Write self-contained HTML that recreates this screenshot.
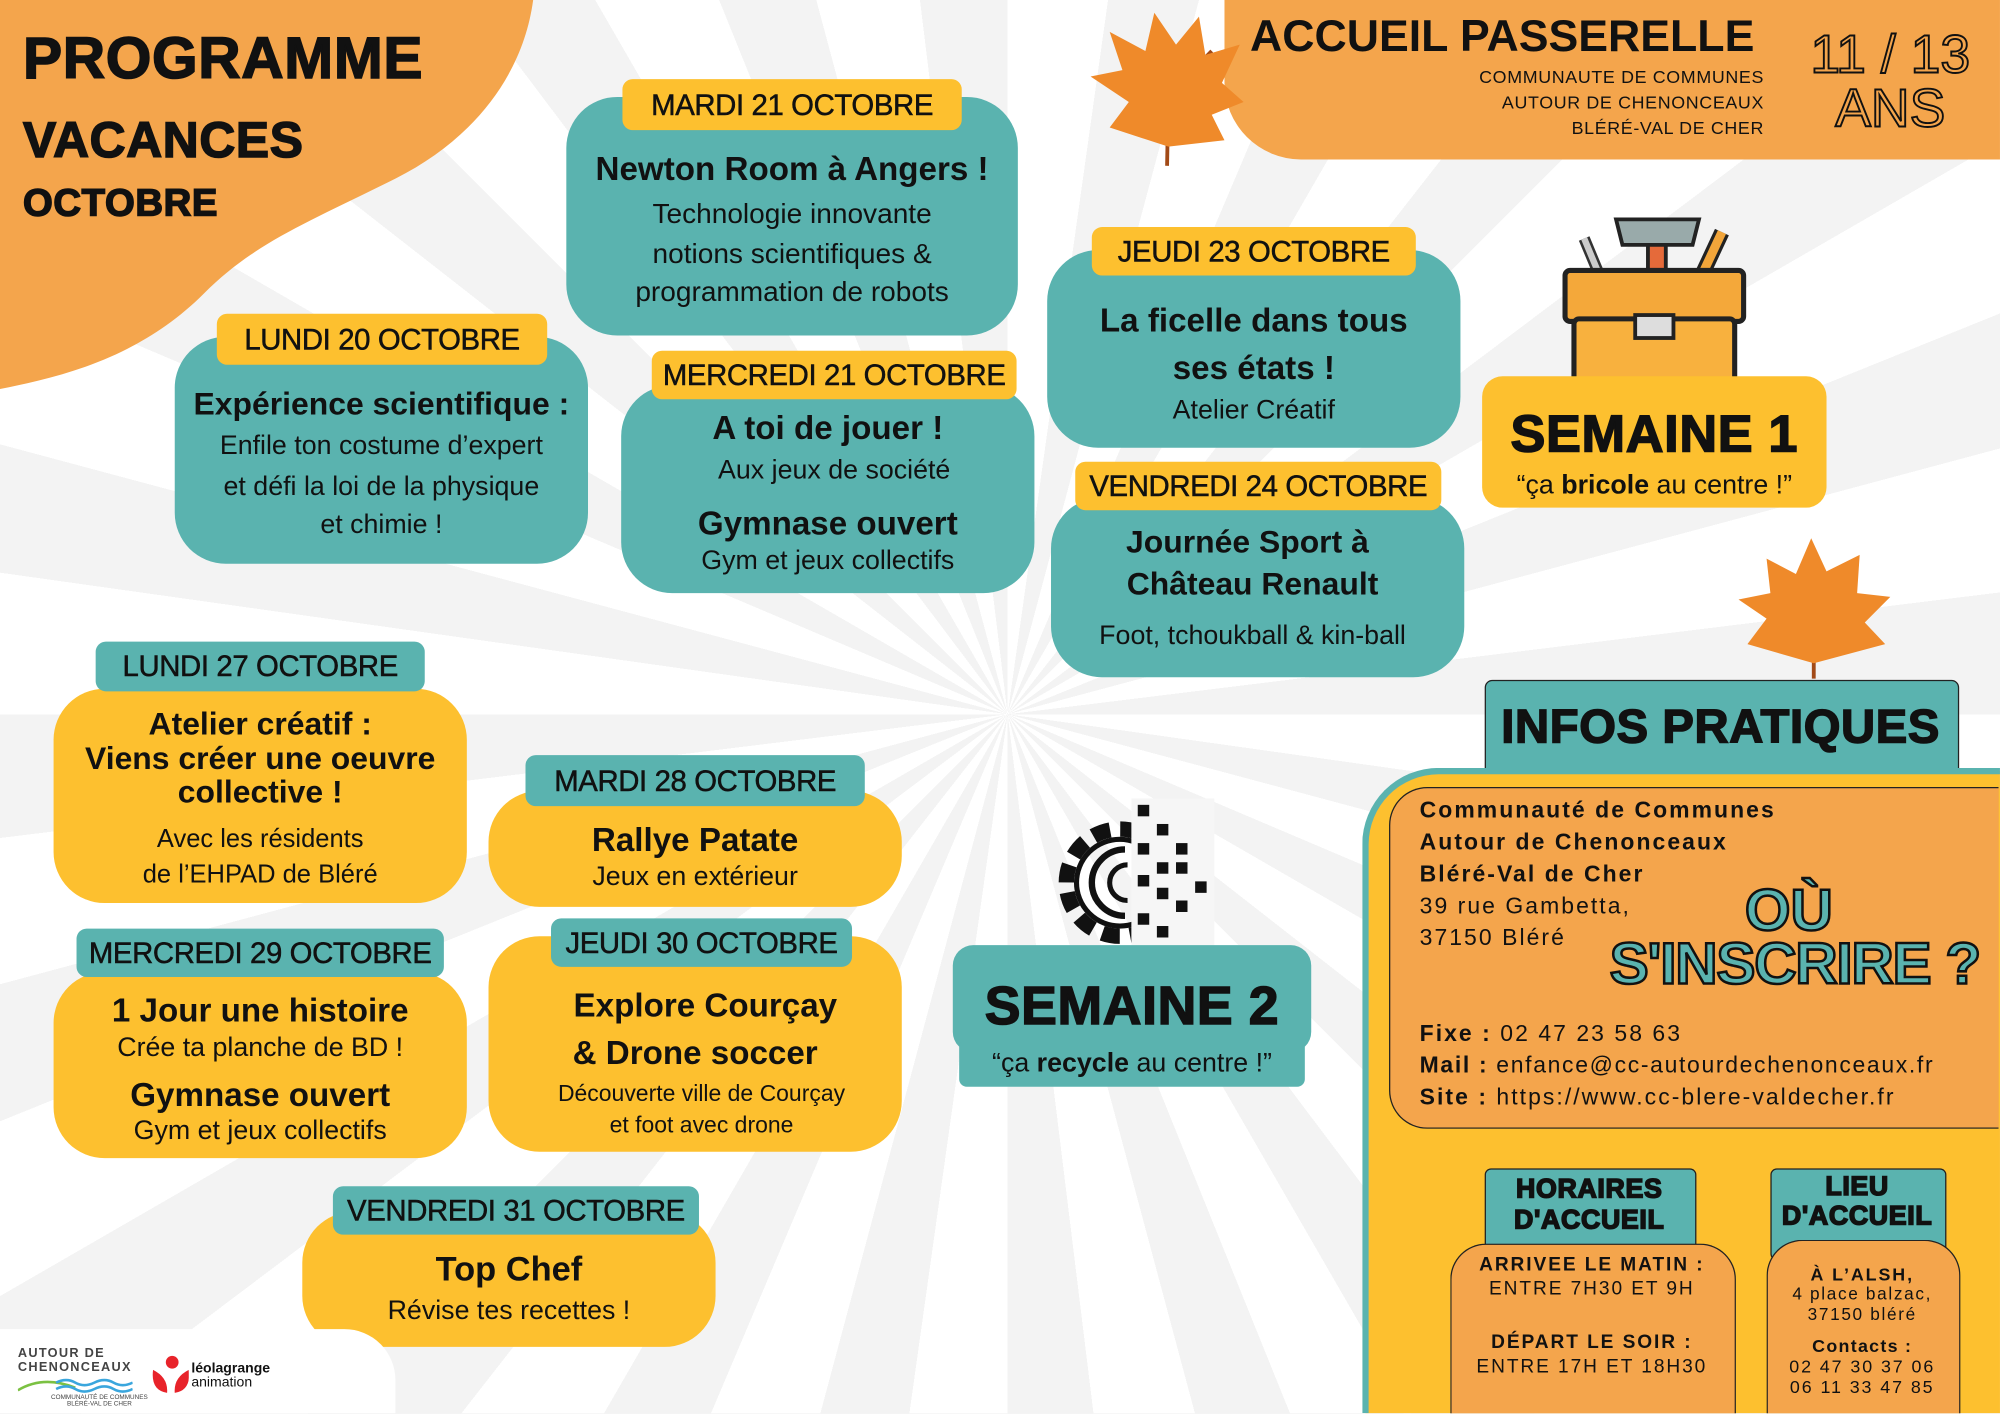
<!DOCTYPE html>
<html><head><meta charset="utf-8"><style>
html,body{margin:0;padding:0;overflow:hidden;width:2000px;height:1414px;}
body{background:#f4f4f4;font-family:"Liberation Sans",sans-serif;position:relative;}
#w{position:absolute;left:0;top:0;width:2000px;height:1414px;overflow:hidden;}
#s{position:absolute;left:0;top:0;width:1568px;height:1108px;transform:scale(1.2755);transform-origin:0 0;overflow:hidden;
background:repeating-conic-gradient(from 0deg at 790px 560px,#ffffff 0deg 8deg,#f3f3f3 8deg 15deg);}
.a{position:absolute;}
.t{position:absolute;text-align:center;white-space:nowrap;line-height:1;color:#111;}
.tl{background:#5ab3af;border-radius:40px;}
.ye{background:#fdc02f;border-radius:40px;}
.lab{position:absolute;border-radius:8px;text-align:center;font-size:23px;line-height:1;color:#111;display:flex;align-items:center;justify-content:center;white-space:nowrap;letter-spacing:-0.3px;-webkit-text-stroke:0.4px #111;}
.ly{background:#fdc02f;}
.lt{background:#5ab3af;}
.b{font-weight:bold;}
.hv{font-weight:bold;-webkit-text-stroke:1.2px #111;color:#111;letter-spacing:0.5px;}
.info{position:absolute;left:1113px;font-size:18px;letter-spacing:1.6px;color:#111;white-space:nowrap;line-height:1;}
</style></head><body><div id="w"><div id="s">

<svg class="a" style="left:0;top:0" width="420" height="306"><path d="M0 0 H418 C410 60 370 110 310 140 C240 175 200 190 160 230 C110 280 50 295 0 305 Z" fill="#f4a54c"/></svg>
<div class="t hv" style="left:18px;top:22px;font-size:46px;">PROGRAMME</div>
<div class="t hv" style="left:18px;top:91px;font-size:39px;">VACANCES</div>
<div class="t hv" style="left:18px;top:145px;font-size:30px;">OCTOBRE</div>

<div class="a" style="left:960px;top:0;width:608px;height:125px;background:#f4a54c;border-radius:0 0 0 60px;"></div>
<div class="t b" style="left:980px;top:11px;font-size:35px;">ACCUEIL PASSERELLE</div>
<div class="t" style="left:1100px;width:283px;text-align:right;top:53px;font-size:14px;letter-spacing:.5px;">COMMUNAUTE DE COMMUNES</div>
<div class="t" style="left:1100px;width:283px;text-align:right;top:73px;font-size:14px;letter-spacing:.5px;">AUTOUR DE CHENONCEAUX</div>
<div class="t" style="left:1100px;width:283px;text-align:right;top:93px;font-size:14px;letter-spacing:.5px;">BLÉRÉ-VAL DE CHER</div>
<div class="t" style="left:1402px;width:160px;top:22px;font-size:42px;color:transparent;-webkit-text-stroke:1.5px #111;">11 / 13</div>
<div class="t" style="left:1402px;width:160px;top:64px;font-size:42px;color:transparent;-webkit-text-stroke:1.5px #111;">ANS</div>

<svg class="a" style="left:850px;top:5px" width="130" height="130"><path d="M65 125 L66 70 M66 70 L30 40 M66 70 L100 35" stroke="#a24a17" stroke-width="3"/><path d="M66 110 L20 95 L35 75 L5 55 L30 50 L20 20 L48 35 L55 5 L72 30 L90 8 L95 38 L122 30 L108 60 L125 75 L100 85 L110 105 Z" fill="#ef8a2a"/></svg>
<svg class="a" style="left:1360px;top:420px" width="130" height="115"><path d="M62 112 L62 60" stroke="#a24a17" stroke-width="3"/><path d="M62 100 L10 85 L25 65 L3 50 L28 45 L25 18 L48 30 L60 2 L72 28 L98 15 L96 45 L122 48 L102 68 L118 85 Z" fill="#ef8a2a"/></svg>

<div class="a tl" style="left:444px;top:76px;width:354px;height:187px;"></div>
<div class="lab ly" style="left:488px;top:62px;width:266px;height:40px;">MARDI 21 OCTOBRE</div>
<div class="t b" style="left:444px;width:354px;top:119px;font-size:26px;">Newton Room à Angers !</div>
<div class="t" style="left:444px;width:354px;top:157px;font-size:22px;">Technologie innovante</div>
<div class="t" style="left:444px;width:354px;top:188px;font-size:22px;">notions scientifiques &amp;</div>
<div class="t" style="left:444px;width:354px;top:218px;font-size:22px;">programmation de robots</div>

<div class="a tl" style="left:137px;top:264px;width:324px;height:178px;"></div>
<div class="lab ly" style="left:170px;top:246px;width:259px;height:40px;">LUNDI 20 OCTOBRE</div>
<div class="t b" style="left:137px;width:324px;top:305px;font-size:25px;">Expérience scientifique :</div>
<div class="t" style="left:137px;width:324px;top:339px;font-size:21px;">Enfile ton costume d’expert</div>
<div class="t" style="left:137px;width:324px;top:371px;font-size:21px;">et défi la loi de la physique</div>
<div class="t" style="left:137px;width:324px;top:401px;font-size:21px;">et chimie !</div>

<div class="a tl" style="left:487px;top:302px;width:324px;height:163px;"></div>
<div class="lab ly" style="left:511px;top:275px;width:286px;height:38px;">MERCREDI 21 OCTOBRE</div>
<div class="t b" style="left:487px;width:324px;top:322px;font-size:26px;">A toi de jouer !</div>
<div class="t" style="left:487px;width:334px;top:358px;font-size:21px;">Aux jeux de société</div>
<div class="t b" style="left:487px;width:324px;top:397px;font-size:26px;">Gymnase ouvert</div>
<div class="t" style="left:487px;width:324px;top:429px;font-size:21px;">Gym et jeux collectifs</div>

<div class="a tl" style="left:821px;top:196px;width:324px;height:155px;"></div>
<div class="lab ly" style="left:856px;top:178px;width:254px;height:38px;">JEUDI 23 OCTOBRE</div>
<div class="t b" style="left:821px;width:324px;top:238px;font-size:26px;">La ficelle dans tous</div>
<div class="t b" style="left:821px;width:324px;top:275px;font-size:26px;">ses états !</div>
<div class="t" style="left:821px;width:324px;top:311px;font-size:21px;">Atelier Créatif</div>

<div class="a tl" style="left:824px;top:390px;width:324px;height:141px;"></div>
<div class="lab ly" style="left:843px;top:362px;width:287px;height:38px;">VENDREDI 24 OCTOBRE</div>
<div class="t b" style="left:816px;width:324px;top:413px;font-size:25px;">Journée Sport à</div>
<div class="t b" style="left:820px;width:324px;top:446px;font-size:25px;">Château Renault</div>
<div class="t" style="left:820px;width:324px;top:488px;font-size:21px;">Foot, tchoukball &amp; kin-ball</div>

<div class="a ye" style="left:42px;top:540px;width:324px;height:168px;"></div>
<div class="lab lt" style="left:75px;top:503px;width:258px;height:39px;">LUNDI 27 OCTOBRE</div>
<div class="t b" style="left:42px;width:324px;top:556px;font-size:25px;">Atelier créatif :</div>
<div class="t b" style="left:42px;width:324px;top:583px;font-size:25px;">Viens créer une oeuvre</div>
<div class="t b" style="left:42px;width:324px;top:609px;font-size:25px;">collective !</div>
<div class="t" style="left:42px;width:324px;top:648px;font-size:20px;">Avec les résidents</div>
<div class="t" style="left:42px;width:324px;top:676px;font-size:20px;">de l’EHPAD de Bléré</div>

<div class="a ye" style="left:383px;top:620px;width:324px;height:91px;"></div>
<div class="lab lt" style="left:412px;top:592px;width:266px;height:40px;">MARDI 28 OCTOBRE</div>
<div class="t b" style="left:383px;width:324px;top:645px;font-size:26px;">Rallye Patate</div>
<div class="t" style="left:383px;width:324px;top:677px;font-size:21px;">Jeux en extérieur</div>

<div class="a ye" style="left:42px;top:762px;width:324px;height:146px;"></div>
<div class="lab lt" style="left:60px;top:728px;width:288px;height:38px;">MERCREDI 29 OCTOBRE</div>
<div class="t b" style="left:42px;width:324px;top:779px;font-size:26px;">1 Jour une histoire</div>
<div class="t" style="left:42px;width:324px;top:811px;font-size:21px;">Crée ta planche de BD !</div>
<div class="t b" style="left:42px;width:324px;top:845px;font-size:26px;">Gymnase ouvert</div>
<div class="t" style="left:42px;width:324px;top:876px;font-size:21px;">Gym et jeux collectifs</div>

<div class="a ye" style="left:383px;top:734px;width:324px;height:169px;"></div>
<div class="lab lt" style="left:432px;top:720px;width:236px;height:38px;">JEUDI 30 OCTOBRE</div>
<div class="t b" style="left:383px;width:340px;top:775px;font-size:26px;">Explore Courçay</div>
<div class="t b" style="left:383px;width:324px;top:812px;font-size:26px;">&amp; Drone soccer</div>
<div class="t" style="left:383px;width:334px;top:848px;font-size:18px;">Découverte ville de Courçay</div>
<div class="t" style="left:383px;width:334px;top:873px;font-size:18px;">et foot avec drone</div>

<div class="a ye" style="left:237px;top:950px;width:324px;height:106px;"></div>
<div class="lab lt" style="left:261px;top:930px;width:287px;height:38px;">VENDREDI 31 OCTOBRE</div>
<div class="t b" style="left:237px;width:324px;top:982px;font-size:27px;">Top Chef</div>
<div class="t" style="left:237px;width:324px;top:1017px;font-size:21px;">Révise tes recettes !</div>

<svg class="a" style="left:1222px;top:162px" width="150" height="150">
<path d="M20 25 L45 85" stroke="#333" stroke-width="9"/><path d="M20 25 L45 85" stroke="#ccc" stroke-width="5"/>
<rect x="70" y="15" width="14" height="70" fill="#e56a3a" stroke="#222" stroke-width="3"/>
<path d="M45 10 L110 10 L105 30 L50 30 Z" fill="#9aa" stroke="#222" stroke-width="3"/>
<path d="M128 20 L100 80" stroke="#222" stroke-width="12"/><path d="M128 20 L100 80" stroke="#f2a53a" stroke-width="7"/>
<rect x="5" y="50" width="140" height="40" rx="4" fill="#f4a83a" stroke="#222" stroke-width="4"/>
<rect x="12" y="88" width="126" height="56" rx="4" fill="#f8b13e" stroke="#222" stroke-width="4"/>
<rect x="60" y="85" width="30" height="18" fill="#ddd" stroke="#222" stroke-width="3"/>
</svg>

<div class="a" style="left:1162px;top:295px;width:270px;height:103px;background:#fdc02f;border-radius:16px;"></div>
<div class="t hv" style="left:1162px;width:270px;top:320px;font-size:41px;">SEMAINE 1</div>
<div class="t" style="left:1162px;width:270px;top:370px;font-size:21px;">“ça <b>bricole</b> au centre !”</div>

<svg class="a" style="left:812px;top:626px" width="140" height="135">
<circle cx="66" cy="66" r="42" fill="none" stroke="#111" stroke-width="12" stroke-dasharray="14 8"/>
<circle cx="66" cy="66" r="34" fill="none" stroke="#111" stroke-width="4"/>
<path d="M70 40 A26 26 0 1 0 70 92" fill="none" stroke="#111" stroke-width="5"/>
<path d="M72 52 A14 14 0 1 0 72 80" fill="none" stroke="#111" stroke-width="4"/>
<rect x="75" y="0" width="70" height="135" fill="#f6f6f6"/>
<g fill="#111"><rect x="80" y="5" width="9" height="9"/><rect x="95" y="20" width="9" height="9"/><rect x="80" y="35" width="9" height="9"/><rect x="95" y="50" width="9" height="9"/><rect x="110" y="50" width="9" height="9"/><rect x="80" y="60" width="9" height="9"/><rect x="95" y="70" width="9" height="9"/><rect x="110" y="80" width="9" height="9"/><rect x="125" y="65" width="9" height="9"/><rect x="80" y="90" width="9" height="9"/><rect x="95" y="100" width="9" height="9"/><rect x="80" y="118" width="9" height="9"/><rect x="110" y="35" width="9" height="9"/></g>
</svg>

<div class="a" style="left:747px;top:741px;width:281px;height:84px;background:#5ab3af;border-radius:16px;"></div>
<div class="a" style="left:752px;top:815px;width:271px;height:37px;background:#5ab3af;border-radius:6px;"></div>
<div class="t hv" style="left:747px;width:281px;top:768px;font-size:42px;">SEMAINE 2</div>
<div class="t" style="left:752px;width:271px;top:823px;font-size:21px;">“ça <b>recycle</b> au centre !”</div>

<div class="a" style="left:1164px;top:533px;width:370px;height:80px;background:#5ab3af;border:1.5px solid #222;border-radius:6px;"></div>
<div class="t hv" style="left:1164px;width:370px;top:551px;font-size:37px;">INFOS PRATIQUES</div>
<div class="a" style="left:1068px;top:602px;width:495px;height:501px;background:#fdc02f;border:5px solid #5ab3af;border-right:none;border-bottom:none;border-radius:60px 0 0 0;"></div>
<div class="a" style="left:1089px;top:617px;width:477px;height:266px;background:#f4a54c;border:1.5px solid #222;border-right:none;border-radius:30px 0 0 30px;"></div>
<div class="info b" style="top:626px;">Communauté de Communes</div>
<div class="info b" style="top:651px;">Autour de Chenonceaux</div>
<div class="info b" style="top:676px;">Bléré-Val de Cher</div>
<div class="info" style="top:701px;">39 rue Gambetta,</div>
<div class="info" style="top:726px;">37150 Bléré</div>
<div class="info" style="top:801px;"><b>Fixe :</b> 02 47 23 58 63</div>
<div class="info" style="top:826px;letter-spacing:1.3px;"><b>Mail :</b> enfance@cc-autourdechenonceaux.fr</div>
<div class="info" style="top:851px;"><b>Site :</b> https://www.cc-blere-valdecher.fr</div>
<div class="t b" style="left:1368px;top:690px;font-size:46px;color:#5ab3af;-webkit-text-stroke:2px #111;">OÙ</div>
<div class="t b" style="left:1262px;top:732px;font-size:46px;color:#5ab3af;-webkit-text-stroke:2px #111;letter-spacing:-1px;">S'INSCRIRE ?</div>

<div class="a" style="left:1164px;top:916px;width:164px;height:70px;background:#5ab3af;border:1.5px solid #222;border-radius:5px;"></div>
<div class="t hv" style="left:1164px;width:164px;top:921px;font-size:21px;line-height:1.15;">HORAIRES<br>D'ACCUEIL</div>
<div class="a" style="left:1137px;top:975px;width:222px;height:133px;background:#f4a54c;border:1.5px solid #222;border-bottom:none;border-radius:28px 28px 0 0;"></div>
<div class="t b" style="left:1137px;width:222px;top:984px;font-size:15px;letter-spacing:1.5px;">ARRIVEE LE MATIN :</div>
<div class="t" style="left:1137px;width:222px;top:1003px;font-size:15px;letter-spacing:1.5px;">ENTRE 7H30 ET 9H</div>
<div class="t b" style="left:1137px;width:222px;top:1045px;font-size:15px;letter-spacing:1.5px;">DÉPART LE SOIR :</div>
<div class="t" style="left:1137px;width:222px;top:1064px;font-size:15px;letter-spacing:1.5px;">ENTRE 17H ET 18H30</div>

<div class="a" style="left:1388px;top:916px;width:136px;height:70px;background:#5ab3af;border:1.5px solid #222;border-radius:5px;"></div>
<div class="t hv" style="left:1388px;width:136px;top:919px;font-size:21px;line-height:1.1;">LIEU<br>D'ACCUEIL</div>
<div class="a" style="left:1385px;top:972px;width:150px;height:136px;background:#f4a54c;border:1.5px solid #222;border-bottom:none;border-radius:28px 28px 0 0;"></div>
<div class="t b" style="left:1385px;width:150px;top:992px;font-size:14px;letter-spacing:1.5px;">À L’ALSH,</div>
<div class="t" style="left:1385px;width:150px;top:1008px;font-size:13.5px;letter-spacing:1.3px;">4 place balzac,</div>
<div class="t" style="left:1385px;width:150px;top:1024px;font-size:13.5px;letter-spacing:1.3px;">37150 bléré</div>
<div class="t b" style="left:1385px;width:150px;top:1048px;font-size:14px;letter-spacing:1px;">Contacts :</div>
<div class="t" style="left:1385px;width:150px;top:1064px;font-size:14px;letter-spacing:1.5px;">02 47 30 37 06</div>
<div class="t" style="left:1385px;width:150px;top:1080px;font-size:14px;letter-spacing:1.5px;">06 11 33 47 85</div>

<div class="a" style="left:0;top:1042px;width:310px;height:66px;background:#fff;border-radius:0 40px 0 0;"></div>
<div class="t b" style="left:14px;top:1056px;font-size:10px;letter-spacing:1px;text-align:left;line-height:1.1;color:#444;">AUTOUR DE<br>CHENONCEAUX</div>
<svg class="a" style="left:14px;top:1078px" width="90" height="16"><path d="M0 12 Q20 0 45 10" stroke="#7bc142" stroke-width="2" fill="none"/><path d="M30 6 q8 -4 15 0 t15 0 t15 0 t15 0 M30 11 q8 -4 15 0 t15 0 t15 0 t15 0" stroke="#3aa6dd" stroke-width="2" fill="none"/></svg>
<div class="t" style="left:40px;top:1094px;font-size:5px;color:#444;">COMMUNAUTÉ DE COMMUNES<br>BLÉRÉ-VAL DE CHER</div>
<svg class="a" style="left:118px;top:1062px" width="30" height="32"><circle cx="17" cy="6" r="5" fill="#e8232a"/><path d="M2 12 Q0 28 13 30 Q14 18 2 12Z M30 12 Q32 28 19 30 Q18 18 30 12Z" fill="#e8232a"/></svg>
<div class="t b" style="left:150px;top:1068px;font-size:11px;text-align:left;line-height:1;">léolagrange<br><span style="font-weight:normal">animation</span></div>

</div></div></body></html>
